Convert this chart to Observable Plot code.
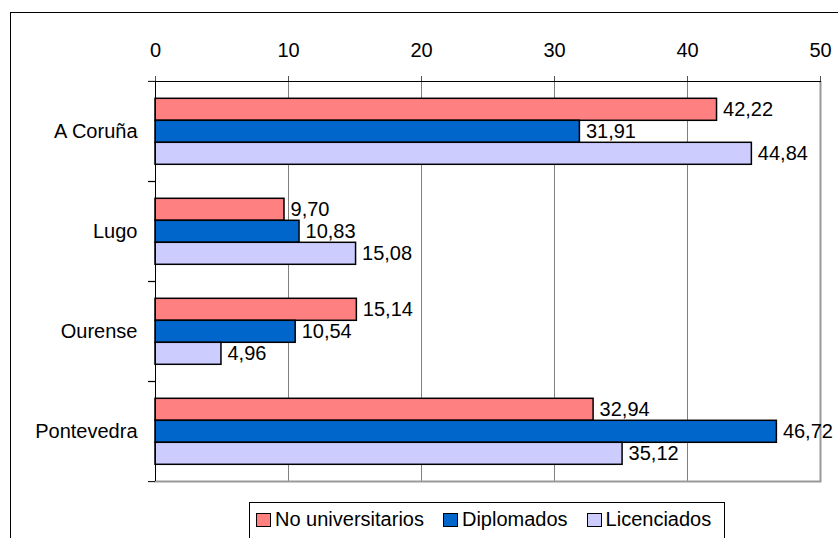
<!DOCTYPE html>
<html>
<head>
<meta charset="utf-8">
<script src="https://cdn.jsdelivr.net/npm/d3@7"></script>
<script src="https://cdn.jsdelivr.net/npm/@observablehq/plot@0.6"></script>
<style>
  html, body { margin: 0; padding: 0; background: #fff; }
  #wrap { position: relative; width: 838px; height: 538px; overflow: hidden;
          font-family: "Liberation Sans", Arial, sans-serif; }
  #border { position: absolute; left: 10px; top: 12px; width: 900px; height: 600px;
            border: 1px solid #000; box-sizing: border-box; }
  #chart { position: absolute; left: 0; top: 0; }
  #legend { position: absolute; left: 249px; top: 502px; width: 476px; height: 60px;
            border: 1px solid #000; box-sizing: border-box; padding: 6px 0 0 6px;
            display: flex; align-items: flex-start; font-size: 20px; line-height: 20px; color: #000; }
  .item { display: flex; align-items: flex-start; margin-right: 19px; white-space: nowrap; }
  .sw { width: 15px; height: 14px; border: 1.5px solid #000; box-sizing: border-box;
        margin: 4px 4px 0 0; }
</style>
</head>
<body>
<div id="wrap">
  <div id="border"></div>
  <div id="chart"></div>
  <div id="legend"></div>
</div>
<script>
// Provinces and education levels
const regions = ["A Coruña", "Lugo", "Ourense", "Pontevedra"];
const series = ["No universitarios", "Diplomados", "Licenciados"];

// Values per province, in the order of `regions`
const noUniversitarios = [42.22, 9.70, 15.14, 32.94];
const diplomados = [31.91, 10.83, 10.54, 46.72];
const licenciados = [44.84, 15.08, 4.96, 35.12];

const xTicks = [0, 10, 20, 30, 40, 50];
const colors = ["#FF8080", "#0066CC", "#CCCCFF"];

const values = [noUniversitarios, diplomados, licenciados];
const rows = regions.flatMap((region, r) =>
  series.map((s, k) => ({region, series: s, value: values[k][r]}))
);

const fmt = d3.formatLocale({decimal: ",", thousands: ".", grouping: [3], currency: ["", "€"]}).format(".2f");

const W = 838, H = 495;
const mTop = 80.7, mLeft = 155, mRight = 18, mBottom = 13.3;
const band = (H - mTop - mBottom) / regions.length;

const chart = Plot.plot({
  width: W,
  height: H,
  marginTop: mTop,
  marginLeft: mLeft,
  marginRight: mRight,
  marginBottom: mBottom,
  style: {fontFamily: "'Liberation Sans', Arial, sans-serif", fontSize: "20px", background: "transparent", overflow: "visible"},
  x: {domain: [0, 50]},
  y: {domain: series, paddingInner: 0, paddingOuter: 0.75, axis: null},
  fy: {domain: regions, padding: 0},
  color: {domain: series, range: colors},
  marks: [
    Plot.gridX(xTicks, {stroke: "#808080", strokeOpacity: 1}),
    Plot.ruleX([50], {stroke: "#999", strokeWidth: 2}),
    Plot.frame({anchor: "bottom", stroke: "#999", strokeWidth: 2, facet: "super"}),
    Plot.axisX({anchor: "top", ticks: xTicks, tickSize: 6, tickPadding: 18, fontSize: 20, label: null, stroke: "#555"}),
    Plot.axisFy({anchor: "left", tickSize: 0, tickPadding: 18, fontSize: 20, label: null}),
    Plot.axisFy({anchor: "left", text: null, tickSize: 7, dy: -band / 2, label: null}),
    Plot.axisFy({anchor: "left", text: null, tickSize: 7, dy: band / 2, label: null}),
    Plot.barX(rows, {x: "value", y: "series", fy: "region", fill: "series", stroke: "black", strokeWidth: 1.5}),
    Plot.text(rows, {x: "value", y: "series", fy: "region", text: d => fmt(d.value),
                     textAnchor: "start", dx: 6, fontSize: 20, fill: "black"}),
    Plot.ruleX([0], {stroke: "black"}),
    Plot.frame({anchor: "top", stroke: "black", facet: "super"})
  ]
});
document.getElementById("chart").appendChild(chart);

// Legend swatches
const legend = d3.select("#legend");
series.forEach((s, k) => {
  const item = legend.append("div").attr("class", "item");
  item.append("div").attr("class", "sw").style("background", colors[k]);
  item.append("span").text(s);
});
</script>
</body>
</html>
